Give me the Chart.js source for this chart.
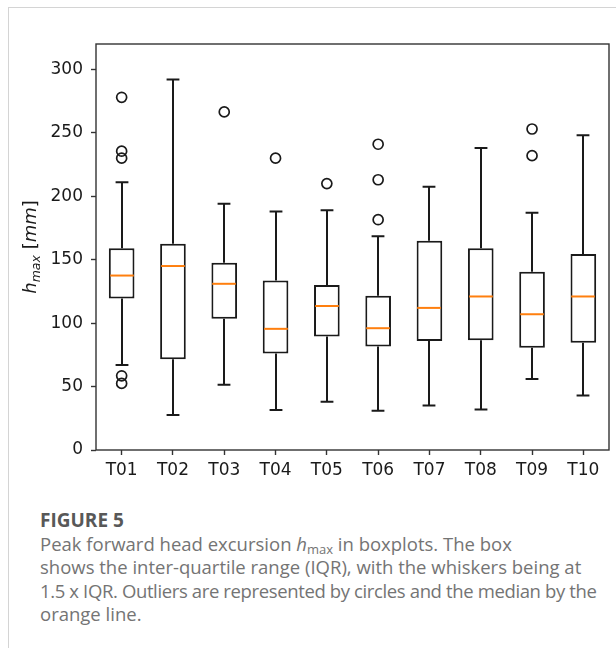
<!DOCTYPE html>
<html>
<head>
<meta charset="utf-8">
<script src="https://cdn.jsdelivr.net/npm/chart.js@4.4.1/dist/chart.umd.min.js"></script>
<style>
  html, body { margin: 0; padding: 0; background: #fff; }
  body { width: 616px; height: 648px; position: relative; overflow: hidden; }
  .frame { position: absolute; left: 8px; top: 7px; right: 0; bottom: 0; border-top: 1px solid #d4d4d4; border-left: 1px solid #d4d4d4; }
  .plot { position: absolute; left: 0; top: 0; width: 616px; height: 490px; }
  .caption { position: absolute; left: 40px; top: 508px; font-family: "Open Sans", sans-serif; font-size: 18.5px; line-height: 23.2px; color: #747474; white-space: nowrap; }
  .caption b { color: #585858; font-weight: 700; font-size: 19px; }
</style>
</head>
<body>
<div class="frame"></div>
<div class="plot"><canvas id="chart" width="616" height="490"></canvas></div>
<div class="caption">
  <b>FIGURE 5</b><br>
  Peak forward head excursion <i>h</i><sub style="font-size:13px;vertical-align:-3px;line-height:0">max</sub> in boxplots. The box<br>
  shows the inter-quartile range (IQR), with the whiskers being at<br>
  <span style="letter-spacing:-0.37px">1.5 x IQR. Outliers are represented by circles and the median by the</span><br>
  orange line.
</div>
<script>
const categories = ["T01", "T02", "T03", "T04", "T05", "T06", "T07", "T08", "T09", "T10"];
const lowerWhisker = [67, 27.5, 51.5, 31.5, 38, 31, 35, 32, 56, 43];
const q1 = [119.5, 71.5, 103.5, 76, 89.5, 81.5, 86, 86.5, 80.5, 84.5];
const medians = [137.5, 145, 131, 95.5, 113.5, 96, 112, 121, 107, 121];
const q3 = [159, 162.5, 147.5, 133.5, 130, 121.5, 165, 159, 140.5, 154.5];
const upperWhisker = [211, 292, 194, 188, 189, 168.5, 207.5, 238, 187, 248];
const outlierCategories = ["T01", "T01", "T01", "T01", "T01", "T03", "T04", "T05", "T06", "T06", "T06", "T09", "T09"];
const outlierValues = [278, 235.5, 230, 58.5, 52.5, 266.5, 230, 210, 241, 213, 181.5, 253, 232];
const yTicks = [0, 50, 100, 150, 200, 250, 300];

const ink = "#1a1a1a";

// whiskers, caps, medians, the axes frame and the y label
const boxParts = {
    id: "boxParts",
    afterDatasetsDraw(chart) {
        const { ctx, scales: { x, y } } = chart;
        const bars = chart.getDatasetMeta(0).data;
        ctx.save();
        ctx.lineCap = "butt";
        categories.forEach((c, i) => {
            const cx = Math.round(x.getPixelForValue(i));
            const w = bars[i].width;
            ctx.strokeStyle = ink;
            ctx.lineWidth = 2;
            ctx.beginPath();
            ctx.moveTo(cx, y.getPixelForValue(q3[i]));
            ctx.lineTo(cx, y.getPixelForValue(upperWhisker[i]));
            ctx.moveTo(cx, y.getPixelForValue(q1[i]));
            ctx.lineTo(cx, y.getPixelForValue(lowerWhisker[i]));
            ctx.moveTo(cx - w / 4, y.getPixelForValue(upperWhisker[i]));
            ctx.lineTo(cx + w / 4, y.getPixelForValue(upperWhisker[i]));
            ctx.moveTo(cx - w / 4, y.getPixelForValue(lowerWhisker[i]));
            ctx.lineTo(cx + w / 4, y.getPixelForValue(lowerWhisker[i]));
            ctx.stroke();
            ctx.strokeStyle = "#ff7f0e";
            ctx.beginPath();
            ctx.moveTo(cx - w / 2 + 1, y.getPixelForValue(medians[i]));
            ctx.lineTo(cx + w / 2 - 1, y.getPixelForValue(medians[i]));
            ctx.stroke();
        });
        const a = chart.chartArea;
        ctx.strokeStyle = "#333";
        ctx.lineWidth = 1.4;
        ctx.strokeRect(a.left, a.top, a.right - a.left, a.bottom - a.top);

        // h_max [mm], mathtext style
        ctx.translate(30, (a.top + a.bottom) / 2);
        ctx.rotate(-Math.PI / 2);
        ctx.fillStyle = ink;
        const parts = [
            { t: "h", f: "italic 18px 'DejaVu Sans'", dy: 0 },
            { t: "max", f: "italic 12.5px 'DejaVu Sans'", dy: 4 },
            { t: " [", f: "18px 'DejaVu Sans'", dy: 0 },
            { t: "mm", f: "italic 18px 'DejaVu Sans'", dy: 0 },
            { t: "]", f: "18px 'DejaVu Sans'", dy: 0 }
        ];
        let total = 0;
        parts.forEach(p => { ctx.font = p.f; p.w = ctx.measureText(p.t).width; total += p.w; });
        let px = -total / 2;
        parts.forEach(p => { ctx.font = p.f; ctx.fillText(p.t, px, 6 + p.dy); px += p.w; });
        ctx.restore();
    }
};

new Chart(document.getElementById("chart"), {
    type: "bar",
    data: {
        labels: categories,
        datasets: [
            {
                data: categories.map((c, i) => [q1[i], q3[i]]),
                backgroundColor: "#ffffff",
                borderColor: ink,
                borderWidth: 2,
                borderSkipped: false,
                barPercentage: 0.5,
                categoryPercentage: 1,
                grouped: false
            },
            {
                type: "line",
                data: outlierValues.map((v, i) => ({ x: outlierCategories[i], y: v })),
                showLine: false,
                pointRadius: 5,
                pointBorderWidth: 1.7,
                pointBorderColor: ink,
                pointBackgroundColor: "rgba(255,255,255,0)"
            }
        ]
    },
    options: {
        responsive: false,
        animation: false,
        layout: { padding: { left: 0, right: 7, top: 44, bottom: 0 } },
        plugins: { legend: { display: false }, tooltip: { enabled: false } },
        scales: {
            x: {
                offset: true,
                border: { display: false },
                grid: { offset: false, drawOnChartArea: false, drawTicks: true, tickLength: 5, tickWidth: 1.4, tickColor: "#333" },
                ticks: { color: ink, padding: 5, maxRotation: 0, font: { family: "DejaVu Sans", size: 17 } },
                afterFit(scale) { scale.height = 40; }
            },
            y: {
                min: 0,
                max: 320,
                border: { display: false },
                afterBuildTicks(scale) { scale.ticks = yTicks.map(v => ({ value: v })); },
                grid: { drawOnChartArea: false, drawTicks: true, tickLength: 5, tickWidth: 1.4, tickColor: "#333" },
                ticks: { color: ink, padding: 8, font: { family: "DejaVu Sans", size: 17 } },
                afterFit(scale) { scale.width = 96; }
            }
        }
    },
    plugins: [boxParts]
});
</script>
</body>
</html>
